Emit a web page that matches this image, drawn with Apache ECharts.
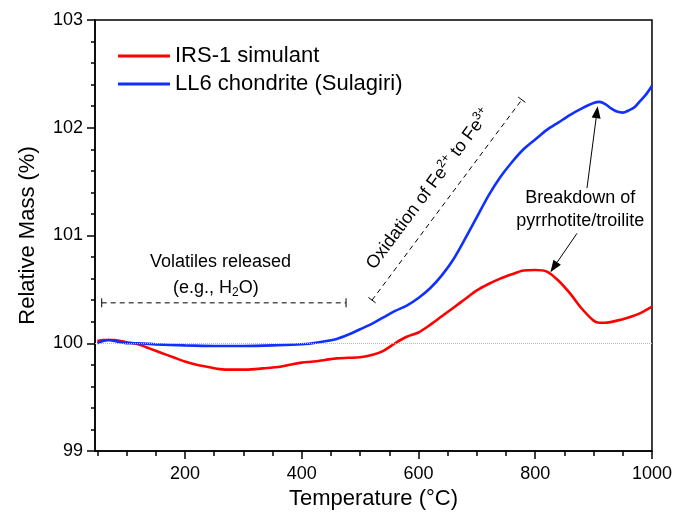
<!DOCTYPE html>
<html><head><meta charset="utf-8">
<script src="https://cdn.jsdelivr.net/npm/echarts@6/dist/echarts.min.js"></script>
<style>html,body{margin:0;padding:0;background:#fff}#c{width:675px;height:519px}</style>
</head><body><div id="c"></div>
<script>
// Temperature (°C) and relative mass (%)
const tempBlue = [50,60,70,80,90,100,120,150,200,250,300,350,400,430,460,480,500,520,540,560,580,600,620,640,660,680,700,720,740,760,780,800,820,840,860,880,900,910,920,930,940,950,960,970,980,990,1000];
const massBlue = [100.00,100.02,100.03,100.02,100.01,100.00,100.00,99.99,99.98,99.975,99.975,99.98,99.99,100.01,100.04,100.08,100.13,100.18,100.24,100.30,100.35,100.42,100.51,100.63,100.78,100.97,101.17,101.37,101.54,101.68,101.80,101.89,101.98,102.05,102.12,102.18,102.23,102.24,102.22,102.18,102.15,102.14,102.16,102.19,102.25,102.31,102.39];
const tempRed = [50,60,70,80,90,100,120,140,160,180,200,220,240,260,280,300,320,340,360,380,400,420,440,460,480,500,520,540,560,580,600,620,640,660,680,700,720,740,760,780,800,820,840,860,880,900,910,920,940,960,980,1000];
const massRed = [100.02,100.03,100.03,100.03,100.02,100.01,99.99,99.95,99.91,99.87,99.83,99.80,99.78,99.76,99.755,99.755,99.76,99.77,99.78,99.80,99.82,99.83,99.845,99.86,99.865,99.87,99.89,99.93,100.00,100.06,100.10,100.17,100.25,100.33,100.41,100.49,100.55,100.60,100.64,100.675,100.68,100.665,100.58,100.46,100.32,100.21,100.19,100.19,100.21,100.24,100.28,100.34];
const xMajor = [200,400,600,800,1000];
const xMinor = [50,100,150,250,300,350,450,500,550,650,700,750,850,900,950];
const seriesNames = ['IRS-1 simulant','LL6 chondrite (Sulagiri)'];

const FONT = '"Liberation Sans", Arial, sans-serif';
const chart = echarts.init(document.getElementById('c'), null, {renderer:'canvas'});
const zip = (a,b)=>a.map((x,i)=>[x,b[i]]);
const XMIN = 46, XMAX = 1000;
chart.setOption({
  animation:false,
  backgroundColor:'#fff',
  grid:{left:95,right:22,top:20,bottom:68,show:true,borderColor:'#000',borderWidth:1.5,containLabel:false},
  legend:{orient:'vertical',left:113,top:40,itemWidth:52,itemHeight:3,icon:'rect',itemGap:6,
    textStyle:{fontFamily:FONT,fontSize:22,color:'#000',lineHeight:22},
    data:seriesNames},
  xAxis:[{type:'value',min:XMIN,max:XMAX,
    name:'Temperature (°C)',nameLocation:'middle',nameGap:21,
    nameTextStyle:{fontFamily:FONT,fontSize:22,color:'#000'},
    axisLine:{lineStyle:{color:'#000',width:1.5}},
    axisTick:{show:true,inside:false,length:8,customValues:xMajor,lineStyle:{color:'#000',width:1.5}},
    axisLabel:{customValues:xMajor,formatter:v=>String(v),fontFamily:FONT,fontSize:18,color:'#000',margin:14},
    splitLine:{show:false}},
   {type:'value',min:XMIN,max:XMAX,position:'bottom',
    axisLine:{show:false},
    axisTick:{show:true,length:5,customValues:xMinor,lineStyle:{color:'#000',width:1.5}},
    axisLabel:{show:false},splitLine:{show:false}}],
  yAxis:{type:'value',min:99,max:103,interval:1,
    name:'Relative Mass (%)',nameLocation:'middle',nameGap:56,nameRotate:90,
    nameTextStyle:{fontFamily:FONT,fontSize:22,color:'#000'},
    axisLine:{show:true,lineStyle:{color:'#000',width:1.5}},
    axisTick:{show:true,length:8,lineStyle:{color:'#000',width:1.5}},
    minorTick:{show:true,splitNumber:5,length:4,lineStyle:{color:'#000',width:1.5}},
    axisLabel:{fontFamily:FONT,fontSize:18,color:'#000',margin:12},
    splitLine:{show:false}},
  series:[
    {name:seriesNames[0],type:'line',data:zip(tempRed,massRed),showSymbol:false,smooth:0.3,
     lineStyle:{color:'#ff0000',width:2.6},itemStyle:{color:'#ff0000'},z:3,
     markLine:{silent:true,symbol:['none','none'],label:{show:false},
       lineStyle:{color:'#b8b8b8',type:'dotted',width:1},data:[{yAxis:100}]}},
    {name:seriesNames[1],type:'line',data:zip(tempBlue,massBlue),showSymbol:false,smooth:0.3,
     lineStyle:{color:'#1030ff',width:2.6},itemStyle:{color:'#1030ff'},z:4}
  ]
});

// Annotations placed in data coordinates
const P = (t,v)=>chart.convertToPixel({gridIndex:0},[t,v]);
const g = [];
const dash = {stroke:'#000',lineWidth:1,lineDash:[5,4]};
const solid = {stroke:'#000',lineWidth:1};
function seg(a,b,style){g.push({type:'line',shape:{x1:a[0],y1:a[1],x2:b[0],y2:b[1]},style:style,silent:true,z:10});}
function capped(a,b,cap){
  seg(a,b,dash);
  const dx=b[0]-a[0], dy=b[1]-a[1], L=Math.hypot(dx,dy), px=-dy/L*cap, py=dx/L*cap;
  [a,b].forEach(p=>seg([p[0]-px,p[1]-py],[p[0]+px,p[1]+py],solid));
}
function arrow(a,b){
  const dx=b[0]-a[0], dy=b[1]-a[1], L=Math.hypot(dx,dy), ux=dx/L, uy=dy/L;
  const hl=12, hw=4.5;
  const base=[b[0]-ux*hl,b[1]-uy*hl];
  seg(a,base,solid);
  g.push({type:'polygon',shape:{points:[b,[base[0]-uy*hw,base[1]+ux*hw],[base[0]+uy*hw,base[1]-ux*hw]]},style:{fill:'#000'},silent:true,z:10});
}
function text(p,str,opts){
  g.push(Object.assign({type:'text',x:p[0],y:p[1],silent:true,z:10,
    style:Object.assign({text:str,fontFamily:FONT,fontSize:18,fill:'#000',align:'center',verticalAlign:'middle'},opts&&opts.style||{})},
    opts&&opts.el||{}));
}
// Volatiles released
capped(P(57.5,100.375),P(476,100.375),4.5);
text(P(261,100.75),'Volatiles released');
text(P(253,100.515),'(e.g., H{sub|2}O)',{style:{rich:{sub:{fontSize:12,verticalAlign:'bottom',padding:[10,0,0,0],fontFamily:FONT}}}});
// Oxidation
const o1=P(520.5,100.40), o2=P(777,102.26);
capped(o1,o2,4.5);
{
  const mx=(o1[0]+o2[0])/2, my=(o1[1]+o2[1])/2;
  const dx=o2[0]-o1[0], dy=o2[1]-o1[1], L=Math.hypot(dx,dy);
  const nx=dy/L, ny=-dx/L; // perpendicular toward upper-left
  const off=21;
  const ang=Math.atan2(-dy,dx);
  text([mx+nx*off - dx/L*2, my+ny*off - dy/L*2],'Oxidation of Fe{sup|2+} to Fe{sup|3+}',
    {style:{rich:{sup:{fontSize:12,verticalAlign:'top',padding:[0,0,10,0],fontFamily:FONT}}},el:{rotation:ang}});
}
// Breakdown
text(P(877,101.35),'Breakdown of');
text(P(877,101.13),'pyrrhotite/troilite');
arrow(P(888.7,101.44),P(907,102.2));
arrow(P(871.6,101.02),P(826,100.66));
chart.setOption({graphic:{elements:g}});
</script></body></html>
